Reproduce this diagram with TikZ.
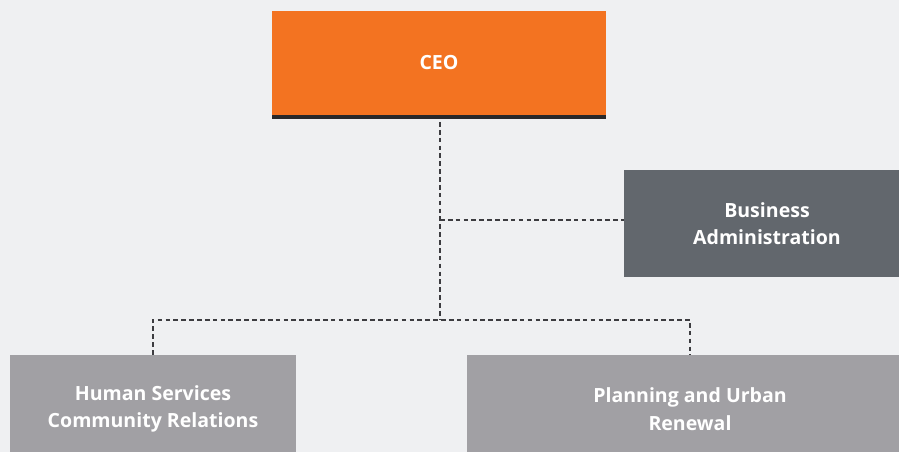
\documentclass[tikz,border=0pt]{standalone}
\usepackage{fontspec}
\setmainfont{Open Sans}
\usepackage{xcolor}
\usepackage{tikz}
\usetikzlibrary{
  positioning,
  calc
}
\definecolor{orgorange}{RGB}{243,115,33}
\definecolor{orgdark}{RGB}{98,103,109}
\definecolor{orglight}{RGB}{161,160,164}
\definecolor{orgbg}{RGB}{239,240,242}
\definecolor{orgline}{RGB}{60,60,64}
\definecolor{orgbar}{RGB}{40,40,42}

\begin{document}
\begin{tikzpicture}[
  unit/.style={minimum width=7.15cm, minimum height=2.7cm, inner sep=0pt, text=white, align=center, font=\fontsize{13.9}{19.5}\selectfont\bfseries},
  head/.style={unit, fill=orgorange, minimum width=8.35cm, minimum height=2.6cm},
  staff/.style={unit, fill=orgdark, minimum height=2.675cm},
  dept/.style={unit, fill=orglight},
  link/.style={draw=orgline, line width=0.8pt, dash pattern=on 3.3pt off 2.3pt}
]
  % page
  \useasboundingbox (0,0) rectangle (22.475,-11.3);
  \fill[orgbg] (0,0) rectangle (22.475,-11.3);
  \clip (0,0) rectangle (22.475,-11.3);

  % boxes
  \node[head] (ceo) at (10.975,-1.575) {CEO};
  \fill[orgbar] (ceo.south west) rectangle ($(ceo.south east)+(0,-0.1)$);
  \node[staff] (biz) at (19.175,-5.5875) {Business\\Administration};
  \node[dept] (hsc) at (3.825,-10.225) {Human Services\\Community Relations};
  \node[dept, minimum width=11.15cm] (pur) at (17.25,-10.225) {Planning and Urban\\Renewal};

  % junctions on the trunk
  \coordinate (top) at (11.0,-3.05);
  \coordinate (j1) at (11.0,-5.5);
  \coordinate (j2) at (11.0,-8.0);

  % dashed reporting lines
  \draw[link] (top) -- (j2);
  \draw[link] (j1) -- (j1 -| biz.west);
  \draw[link] (hsc.north) |- (j2) -| (pur.north);
\end{tikzpicture}
\end{document}
